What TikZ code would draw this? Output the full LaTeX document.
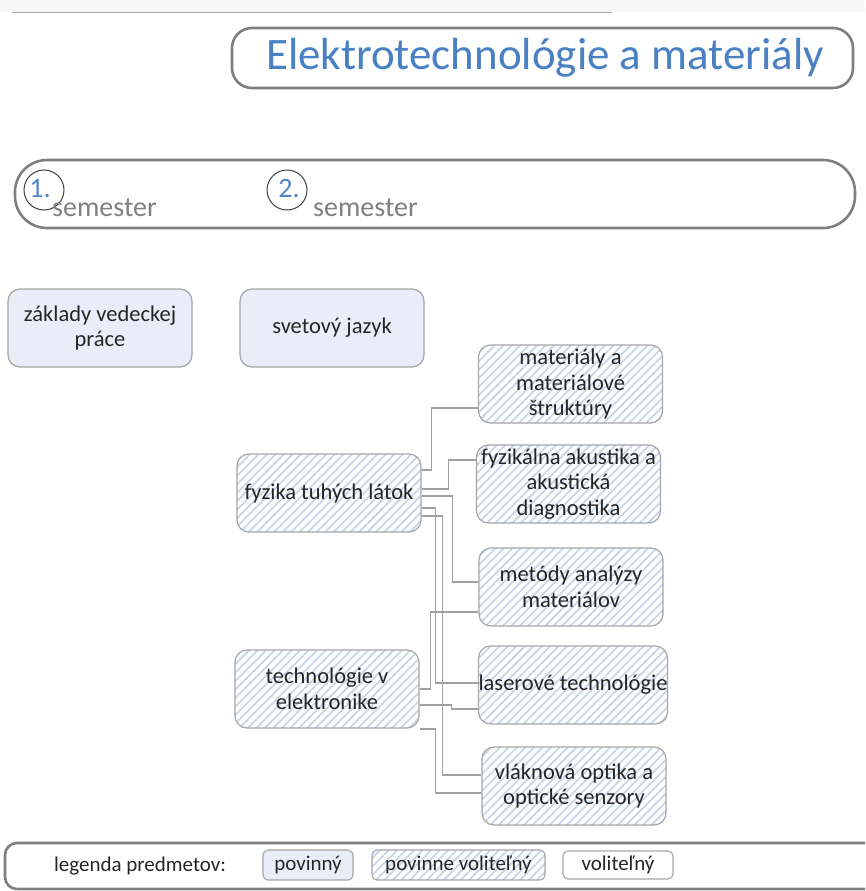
\documentclass[tikz,border=0pt]{standalone}
\usepackage{fontspec}
\setmainfont{Carlito}
\usetikzlibrary{patterns.meta,calc}
\definecolor{bordergray}{HTML}{7F7F7F}
\definecolor{boxgray}{HTML}{A6A6A6}
\definecolor{lav}{HTML}{E9EDF7}
\definecolor{hatch}{HTML}{C8D6EC}
\definecolor{titleblue}{HTML}{4A80C4}
\definecolor{numblue}{HTML}{4F86C6}
\definecolor{conngray}{HTML}{A0A0A0}
\definecolor{txt}{HTML}{262626}
\begin{document}
\begin{tikzpicture}[x=1pt,y=-1pt,
 box/.style={draw=boxgray, line width=1.2pt, rounded corners=12pt, minimum width=184pt, minimum height=78pt, align=center, font=\fontsize{22.5}{25.5}\selectfont, text=txt, inner sep=0pt},
 mand/.style={box, fill=lav},
 pvol/.style={box, preaction={fill=white}, pattern={Lines[angle=45,distance=6pt,line width=1.8pt]}, pattern color=hatch},
 legbox/.style={draw=boxgray, line width=1.1pt, rounded corners=5pt, minimum height=30pt, font=\fontsize{21}{23}\selectfont, text=txt, inner sep=0pt},
 conn/.style={draw=conngray, line width=1.2pt},
 bar/.style={draw=bordergray, line width=2.6pt},
 semtxt/.style={text=gray, font=\fontsize{28}{30}\selectfont, anchor=base west, inner sep=0pt},
 numtxt/.style={text=numblue, font=\fontsize{28}{30}\selectfont, inner sep=0pt}]
\clip (0,0) rectangle (865,891);
% top strip
\fill[black!3] (0,0) rectangle (865,12);
\draw[black!35, line width=1pt] (12,13) -- (612,13);
% title
\draw[bar, fill=white, rounded corners=20pt] (232,28) rectangle (853,88);
\node[text=titleblue, font=\fontsize{45}{47}\selectfont, inner sep=0pt] (title) at (545,58) {Elektrotechnológie a materiály};
% semester bar
\draw[bar, rounded corners=32pt] (15,160) rectangle (855,228);
\node[draw=black!75, line width=1pt, circle, minimum size=40pt, inner sep=0pt] (c1) at (44,190) {};
\node[draw=black!75, line width=1pt, circle, minimum size=40pt, inner sep=0pt] (c2) at (287,190) {};
\node[numtxt] (n1) at (40,189) {1.};
\node[numtxt] (n2) at (289,189) {2.};
\node[semtxt] (s1) at (52,216) {semester};
\node[semtxt] (s2) at (313,216) {semester};
% boxes
\node[mand] (zvp) at (100,328) {základy vedeckej\\práce};
\node[mand] (sj) at (332,328) {svetový jazyk};
\node[pvol] (mat) at (570.5,384) {materiály a\\materiálové\\štruktúry};
\node[pvol] (fyzak) at (568.5,484) {fyzikálna akustika a\\akustická\\diagnostika};
\node[pvol] (meto) at (571,587) {metódy analýzy\\materiálov};
\node[pvol] (laser) at (573,685) {laserové technológie};
\node[pvol] (vlak) at (574,786) {vláknová optika a\\optické senzory};
\node[pvol] (ftl) at (329,493) {fyzika tuhých látok};
\node[pvol] (tech) at (327,689) {technológie v\\elektronike};
% connectors
\draw[conn] ($(ftl.east)+(0,-23)$) -- ++(10,0) |- ($(mat.west)+(0,24)$);
\draw[conn] ($(ftl.east)+(0,-4)$) -- ++(27,0) |- ($(fyzak.west)+(0,-24)$);
\draw[conn] ($(ftl.east)+(0,3)$) -- ++(31,0) |- ($(meto.west)+(0,-5)$);
\draw[conn] ($(ftl.east)+(0,15)$) -- ++(14,0) |- ($(laser.west)+(0,-2)$);
\draw[conn] ($(ftl.east)+(0,23)$) -- ++(21,0) |- ($(vlak.west)+(0,-11)$);
\draw[conn] (tech.east) -- ++(11,0) |- ($(meto.west)+(0,25)$);
\draw[conn] ($(tech.east)+(0,16)$) -- ++(32,0) |- ($(laser.west)+(0,24)$);
\draw[conn] ($(tech.east)+(0,40)$) -- ++(16,0) |- ($(vlak.west)+(0,7)$);
% legend
\draw[bar, rounded corners=12pt] (5,843) rectangle (885,889);
\node[font=\fontsize{21}{23}\selectfont, text=txt, inner sep=0pt] (leg) at (140,866) {legenda predmetov:};
\node[legbox, fill=lav, minimum width=90pt] (lp) at (308,865) {povinný};
\node[legbox, preaction={fill=white}, pattern={Lines[angle=45,distance=6pt,line width=1.8pt]}, pattern color=hatch, minimum width=173pt] (lpv) at (458.5,865) {povinne voliteľný};
\node[legbox, fill=white, minimum width=110pt, minimum height=28pt] (lv) at (618,865) {voliteľný};
\end{tikzpicture}
\end{document}
